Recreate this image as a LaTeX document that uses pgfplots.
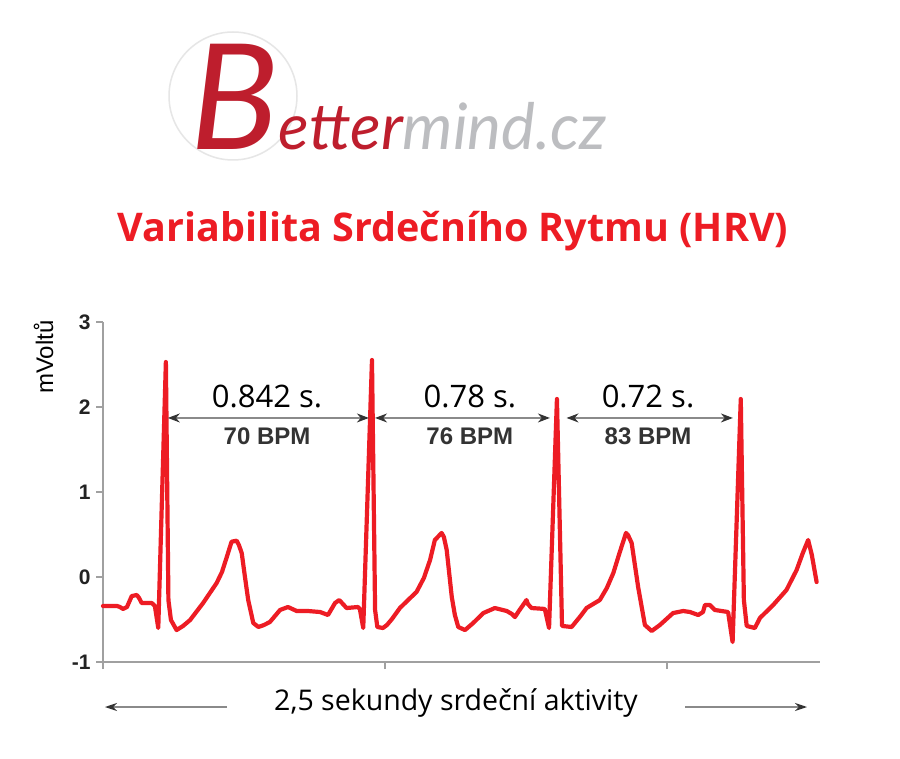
\documentclass[border=0pt]{standalone}
\usepackage{fontspec}
\setmainfont{Open Sans}
\newfontfamily\arial{Liberation Sans}
\newfontfamily\logofont{Lato}
\usepackage{pgfplots}
\pgfplotsset{compat=1.18}
\usetikzlibrary{arrows.meta}

\definecolor{ecgred}{HTML}{ED1C24}
\definecolor{titlered}{HTML}{ED1C24}
\definecolor{logored}{HTML}{BE1E2D}
\definecolor{logogray}{HTML}{BCBDC0}
\definecolor{logocircle}{HTML}{E6E6E6}
\definecolor{axisgray}{HTML}{A0A0A0}
\definecolor{arrowgray}{HTML}{8A8A8A}
\definecolor{headdark}{HTML}{333333}
\definecolor{labeldark}{HTML}{222222}

\begin{document}
\begin{tikzpicture}[x=1pt,y=1pt]
\path[fill=white] (0,0) rectangle (900,-759);

% logo
\draw[logocircle, line width=1.5pt] (233,-96) circle (64);
\node[anchor=base west, inner sep=0pt] at (190,-150)
  {\logofont\itshape{\color{logored}\fontsize{147}{147}\selectfont B\fontsize{64}{64}\selectfont etter}{\color{logogray}\fontsize{64}{64}\selectfont mind.cz}};

% title
\node[anchor=base, text=titlered, font=\bfseries\fontsize{39.5}{39.5}\selectfont] at (453,-242)
  {Variabilita Srdečního Rytmu (HRV)};

% y label
\node[rotate=90, anchor=base, inner sep=0pt, font=\arial\fontsize{24}{24}\selectfont] at (53,-357) {mVoltů};

\begin{axis}[
  at={(103pt,-662pt)}, anchor=south west,
  scale only axis, width=717pt, height=340pt,
  xmin=0, xmax=2.543, ymin=-1, ymax=3,
  axis x line*=bottom, axis y line*=left,
  axis line style={draw=axisgray, line width=1.2pt},
  xtick={0,1,2}, xticklabels={,,},
  ytick={-1,0,1,2,3}, yticklabels={-1,0,1,2,3},
  tick align=outside, major tick length=7pt,
  tick style={draw=axisgray, line width=1.2pt},
  yticklabel style={font=\arial\bfseries\fontsize{21}{21}\selectfont, text=labeldark, xshift=-2pt},
  clip=false,
]
\addplot[ecgred, line width=4.2pt, line join=round, line cap=round] table {
t v
0.000 -0.341
0.025 -0.341
0.050 -0.341
0.060 -0.353
0.071 -0.376
0.085 -0.353
0.102 -0.224
0.120 -0.212
0.128 -0.247
0.137 -0.306
0.152 -0.306
0.173 -0.306
0.184 -0.341
0.196 -0.600
0.223 2.529
0.232 -0.271
0.241 -0.506
0.261 -0.624
0.284 -0.576
0.309 -0.506
0.355 -0.306
0.403 -0.071
0.422 0.059
0.439 0.235
0.456 0.415
0.474 0.427
0.482 0.376
0.492 0.282
0.504 -0.012
0.515 -0.271
0.533 -0.541
0.551 -0.588
0.571 -0.565
0.592 -0.529
0.628 -0.388
0.656 -0.353
0.687 -0.400
0.727 -0.400
0.770 -0.412
0.798 -0.447
0.823 -0.306
0.838 -0.271
0.851 -0.318
0.864 -0.365
0.904 -0.353
0.911 -0.376
0.923 -0.600
0.954 2.553
0.965 -0.388
0.973 -0.588
0.993 -0.600
1.007 -0.565
1.025 -0.494
1.053 -0.365
1.082 -0.271
1.112 -0.176
1.138 -0.012
1.160 0.200
1.177 0.435
1.201 0.518
1.209 0.471
1.219 0.318
1.237 -0.235
1.248 -0.447
1.260 -0.588
1.284 -0.624
1.313 -0.541
1.349 -0.424
1.390 -0.365
1.432 -0.400
1.450 -0.435
1.461 -0.471
1.475 -0.400
1.490 -0.329
1.502 -0.271
1.507 -0.318
1.520 -0.365
1.567 -0.376
1.582 -0.600
1.610 2.094
1.628 -0.576
1.662 -0.588
1.691 -0.471
1.715 -0.365
1.762 -0.271
1.787 -0.129
1.810 0.047
1.833 0.294
1.855 0.518
1.862 0.494
1.875 0.400
1.898 -0.118
1.922 -0.565
1.946 -0.635
1.975 -0.565
2.022 -0.424
2.058 -0.400
2.082 -0.412
2.111 -0.447
2.128 -0.412
2.135 -0.329
2.152 -0.329
2.170 -0.388
2.217 -0.412
2.233 -0.765
2.262 2.094
2.273 -0.271
2.283 -0.576
2.312 -0.600
2.330 -0.482
2.377 -0.329
2.424 -0.153
2.460 0.082
2.482 0.282
2.501 0.435
2.514 0.259
2.531 -0.059
};

% RR intervals
\draw[arrowgray, line width=1.1pt,
  {Stealth[length=12pt,width=9pt,color=headdark]}-{Stealth[length=12pt,width=9pt,color=headdark]}]
  (axis cs:0.230,1.871) -- (axis cs:0.943,1.871);
\draw[arrowgray, line width=1.1pt,
  {Stealth[length=12pt,width=9pt,color=headdark]}-{Stealth[length=12pt,width=9pt,color=headdark]}]
  (axis cs:0.965,1.871) -- (axis cs:1.585,1.871);
\draw[arrowgray, line width=1.1pt,
  {Stealth[length=12pt,width=9pt,color=headdark]}-{Stealth[length=12pt,width=9pt,color=headdark]}]
  (axis cs:1.644,1.871) -- (axis cs:2.234,1.871);

\node[anchor=base, font=\fontsize{31}{31}\selectfont] at (axis cs:0.582,2.0) {0.842 s.};
\node[anchor=base, font=\fontsize{31}{31}\selectfont] at (axis cs:1.301,2.0) {0.78 s.};
\node[anchor=base, font=\fontsize{31}{31}\selectfont] at (axis cs:1.933,2.0) {0.72 s.};

\node[anchor=base, text=headdark, font=\arial\bfseries\fontsize{24}{24}\selectfont] at (axis cs:0.582,1.553) {70 BPM};
\node[anchor=base, text=headdark, font=\arial\bfseries\fontsize{24}{24}\selectfont] at (axis cs:1.301,1.553) {76 BPM};
\node[anchor=base, text=headdark, font=\arial\bfseries\fontsize{24}{24}\selectfont] at (axis cs:1.933,1.553) {83 BPM};
\end{axis}

% time span
\node[anchor=base, font=\fontsize{28.5}{28.5}\selectfont] at (456,-710) {2,5 sekundy srdeční aktivity};
\draw[arrowgray, line width=1.3pt, -{Stealth[length=12pt,width=8pt,color=headdark]}] (227,-707) -- (105,-707);
\draw[arrowgray, line width=1.3pt, -{Stealth[length=12pt,width=8pt,color=headdark]}] (685,-707) -- (807,-707);

\pgfresetboundingbox
\path[use as bounding box] (0,0) rectangle (900,-759);
\end{tikzpicture}
\end{document}
